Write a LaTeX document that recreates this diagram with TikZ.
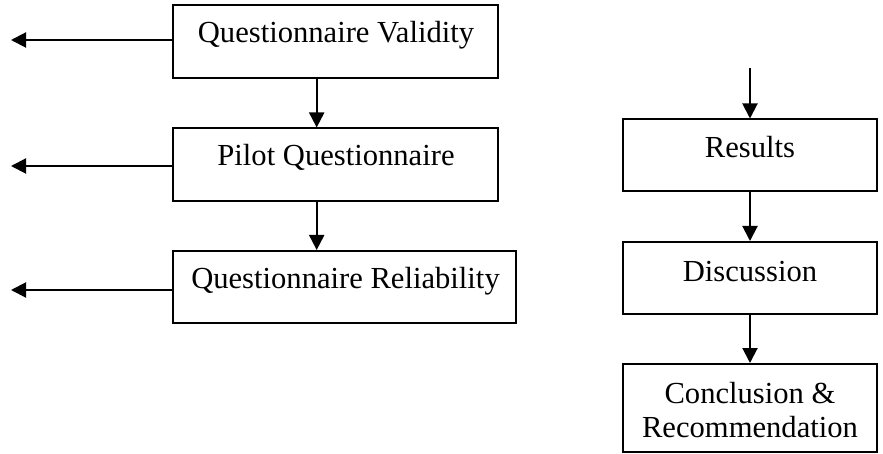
\documentclass[tikz,border=0pt]{standalone}
\usepackage{fontspec}
\setmainfont{Liberation Serif}
\usetikzlibrary{arrows.meta}
\begin{document}
\begin{tikzpicture}[x=1pt,y=-1pt,
  boxst/.style={draw, line width=2pt, rectangle, inner sep=0pt},
  txt/.style={anchor=base, inner sep=0pt, font=\fontsize{30.6}{34}\selectfont},
  arr/.style={line width=2pt, -{Triangle[length=15pt,width=15pt]}}]
\useasboundingbox (0,0) rectangle (883,454);
% left column boxes
\node[boxst, minimum width=325pt, minimum height=73pt] (b1) at (335.5,41.5) {};
\node[boxst, minimum width=325pt, minimum height=73pt] (b2) at (335.5,165) {};
\node[boxst, minimum width=343pt, minimum height=72pt] (b3) at (344.5,287) {};
\node[txt] (t1) at (336,43) {Questionnaire Validity};
\node[txt] (t2) at (336,166) {Pilot Questionnaire};
\node[txt] (t3) at (345.5,288) {Questionnaire Reliability};
% left arrows
\coordinate (l1) at (11,40);
\coordinate (l2) at (11,166);
\coordinate (l3) at (11,290);
\draw[arr] (b1.west |- l1) -- (l1);
\draw[arr] (b2.west |- l2) -- (l2);
\draw[arr] (b3.west |- l3) -- (l3);
% vertical arrows
\draw[arr] (b1.south -| 316.7,0) -- (b2.north -| 316.7,0);
\draw[arr] (b2.south -| 316.7,0) -- (b3.north -| 316.7,0);
% right column
\node[boxst, minimum width=254pt, minimum height=72pt] (r1) at (750,155.5) {};
\node[boxst, minimum width=254pt, minimum height=72pt] (r2) at (750,278) {};
\node[boxst, minimum width=254pt, minimum height=88pt] (r3) at (750,408) {};
\node[txt] (rt1) at (750,158) {Results};
\node[txt] (rt2) at (750,281) {Discussion};
\node[txt] (rt3a) at (750,403) {Conclusion \&};
\node[txt] (rt3b) at (750,437) {Recommendation};
\coordinate (top) at (750,68);
\draw[arr] (top) -- (r1.north);
\draw[arr] (r1.south) -- (r2.north);
\draw[arr] (r2.south) -- (r3.north);
\end{tikzpicture}
\end{document}
